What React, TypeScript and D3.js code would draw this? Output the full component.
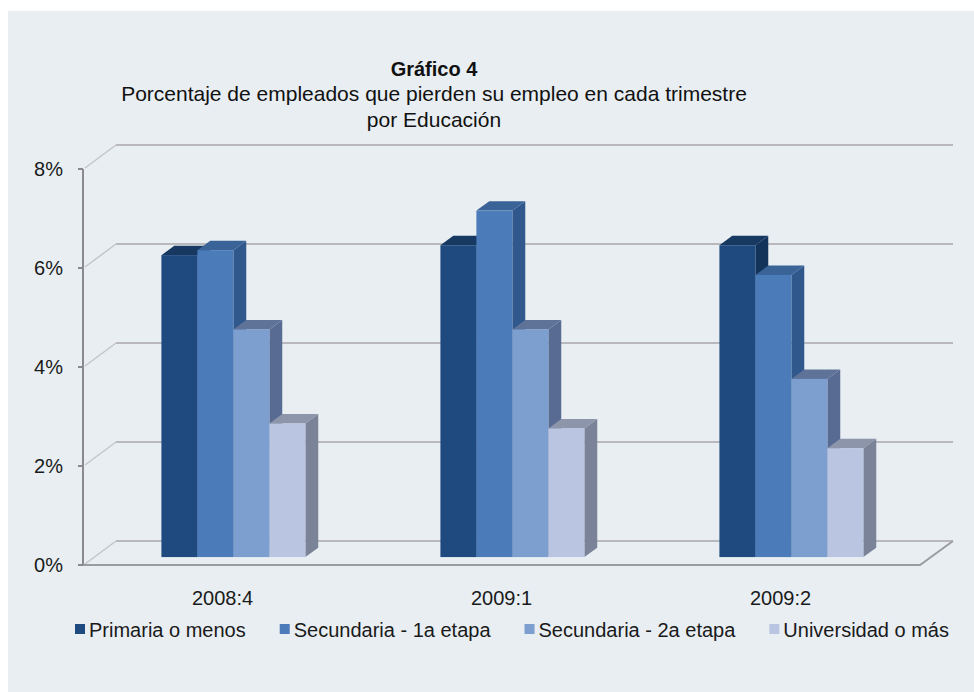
import React, { useRef, useEffect } from "react";
import * as d3 from "d3";

const categories = ["2008:4", "2009:1", "2009:2"];
const seriesNames = [
  "Primaria o menos",
  "Secundaria - 1a etapa",
  "Secundaria - 2a etapa",
  "Universidad o más",
];
const primaria = [6.1, 6.3, 6.3];
const secundaria1 = [6.2, 7.0, 5.7];
const secundaria2 = [4.6, 4.6, 3.6];
const universidad = [2.7, 2.6, 2.2];
const yTicks = [0, 2, 4, 6, 8];

const seriesValues = [primaria, secundaria1, secundaria2, universidad];

// front / top / side colours per series
const faceColors = [
  { front: "#1f4a80", top: "#163861", side: "#14335a" },
  { front: "#4b7bb9", top: "#3a6398", side: "#31588c" },
  { front: "#7d9fd0", top: "#5f7399", side: "#586b93" },
  { front: "#b9c5e1", top: "#8c95aa", side: "#7a8398" },
];

const App: React.FC = () => {
  const svgRef = useRef<SVGSVGElement | null>(null);

  useEffect(() => {
    if (!svgRef.current) return;
    const svg = d3.select(svgRef.current);
    svg.selectAll("*").remove();

    const W = 974;
    const H = 692;
    const font = "'Liberation Sans', Arial, sans-serif";

    // fondo del gráfico
    svg.append("rect").attr("x", 0).attr("y", 0).attr("width", W).attr("height", H).attr("fill", "#ffffff");
    svg.append("rect").attr("x", 8).attr("y", 11).attr("width", W - 8).attr("height", H - 11).attr("fill", "#e8eef2");

    // plot frame (front plane) and depth vector
    const x0 = 83;
    const x1 = 920;
    const DX = 33;
    const DY = -24;
    const barFront = 0.33; // fraction of depth
    const barBack = 0.72;

    const y = d3.scaleLinear().domain([0, 8]).range([565, 169]);

    const x = d3
      .scaleBand<string>()
      .domain(categories)
      .range([x0, x1])
      .paddingInner(0.484)
      .paddingOuter(0.242);

    const xs = d3
      .scaleBand<string>()
      .domain(seriesNames)
      .range([0, x.bandwidth()])
      .padding(0);

    const grid = svg.append("g");

    // back wall gridlines
    grid
      .selectAll(".back")
      .data(yTicks)
      .enter()
      .append("line")
      .attr("x1", x0 + DX)
      .attr("x2", x1 + DX)
      .attr("y1", (d) => y(d) + DY)
      .attr("y2", (d) => y(d) + DY)
      .attr("stroke", "#b9b9bd")
      .attr("stroke-width", 2);

    // side wall diagonals
    grid
      .selectAll(".side")
      .data(yTicks)
      .enter()
      .append("line")
      .attr("x1", x0 + 2)
      .attr("x2", x0 + DX)
      .attr("y1", (d) => y(d) - 1)
      .attr("y2", (d) => y(d) + DY)
      .attr("stroke", "#c4c6ca")
      .attr("stroke-width", 1.5);

    // floor
    grid
      .append("path")
      .attr(
        "d",
        `M${x0},${y(0)} L${x1},${y(0)} L${x1 + DX},${y(0) + DY}`
      )
      .attr("fill", "none")
      .attr("stroke", "#9a9ca0")
      .attr("stroke-width", 2);

    // y axis
    grid
      .append("line")
      .attr("x1", x0)
      .attr("x2", x0)
      .attr("y1", y(8))
      .attr("y2", y(0))
      .attr("stroke", "#8a8a8e")
      .attr("stroke-width", 2);

    grid
      .selectAll(".tick")
      .data(yTicks)
      .enter()
      .append("line")
      .attr("x1", x0 - 5)
      .attr("x2", x0)
      .attr("y1", (d) => y(d))
      .attr("y2", (d) => y(d))
      .attr("stroke", "#8a8a8e")
      .attr("stroke-width", 2);

    svg
      .selectAll(".ylab")
      .data(yTicks)
      .enter()
      .append("text")
      .attr("x", 63)
      .attr("y", (d) => y(d) + 7)
      .attr("text-anchor", "end")
      .attr("font-family", font)
      .attr("font-size", 20)
      .attr("fill", "#1a1a1a")
      .text((d) => `${d}%`);

    // barras 3D
    const fdx = DX * barFront;
    const fdy = DY * barFront;
    const ddx = DX * (barBack - barFront);
    const ddy = DY * (barBack - barFront);
    const yb = (v: number) => y(v) + fdy;
    const bars = svg.append("g");

    categories.forEach((cat, ci) => {
      seriesNames.forEach((s, si) => {
        const v = seriesValues[si][ci];
        const bx = x(cat)! + xs(s)! + fdx;
        const bw = xs.bandwidth();
        const yt = yb(v);
        const y0 = yb(0);
        const c = faceColors[si];
        // side face
        bars
          .append("path")
          .attr(
            "d",
            `M${bx + bw},${yt} L${bx + bw + ddx},${yt + ddy} L${bx + bw + ddx},${y0 + ddy} L${bx + bw},${y0} Z`
          )
          .attr("fill", c.side);
        // top face
        bars
          .append("path")
          .attr(
            "d",
            `M${bx},${yt} L${bx + bw},${yt} L${bx + bw + ddx},${yt + ddy} L${bx + ddx},${yt + ddy} Z`
          )
          .attr("fill", c.top);
        // front face
        bars
          .append("rect")
          .attr("x", bx)
          .attr("y", yt)
          .attr("width", bw)
          .attr("height", y0 - yt)
          .attr("fill", c.front);
      });
    });

    // category labels
    svg
      .selectAll(".xlab")
      .data(categories)
      .enter()
      .append("text")
      .attr("x", (d) => x(d)! + x.bandwidth() / 2)
      .attr("y", 605)
      .attr("text-anchor", "middle")
      .attr("font-family", font)
      .attr("font-size", 20)
      .attr("fill", "#1a1a1a")
      .text((d) => d);

    // títulos
    const cx = 434;
    svg
      .append("text")
      .attr("x", cx)
      .attr("y", 76)
      .attr("text-anchor", "middle")
      .attr("font-family", font)
      .attr("font-size", 20)
      .attr("font-weight", "bold")
      .attr("fill", "#111")
      .text("Gráfico 4");
    svg
      .append("text")
      .attr("x", cx)
      .attr("y", 101)
      .attr("text-anchor", "middle")
      .attr("font-family", font)
      .attr("font-size", 21)
      .attr("fill", "#111")
      .text("Porcentaje de empleados que pierden su empleo en cada trimestre");
    svg
      .append("text")
      .attr("x", cx)
      .attr("y", 127)
      .attr("text-anchor", "middle")
      .attr("font-family", font)
      .attr("font-size", 21)
      .attr("fill", "#111")
      .text("por Educación");

    // legend
    const legend = svg.append("g");
    let lx = 75;
    const ly = 630;
    seriesNames.forEach((s, si) => {
      legend
        .append("rect")
        .attr("x", lx)
        .attr("y", ly - 6)
        .attr("width", 10)
        .attr("height", 10)
        .attr("fill", faceColors[si].front);
      const t = legend
        .append("text")
        .attr("x", lx + 14)
        .attr("y", ly + 7)
        .attr("font-family", font)
        .attr("font-size", 20)
        .attr("fill", "#1a1a1a")
        .text(s);
      const tw = (t.node() as SVGTextElement).getComputedTextLength();
      lx += 14 + tw + 34;
    });
  }, []);

  return (
    <svg
      ref={svgRef}
      width={974}
      height={692}
      style={{ position: "absolute", left: 0, top: 0 }}
    ></svg>
  );
};

export default App;
